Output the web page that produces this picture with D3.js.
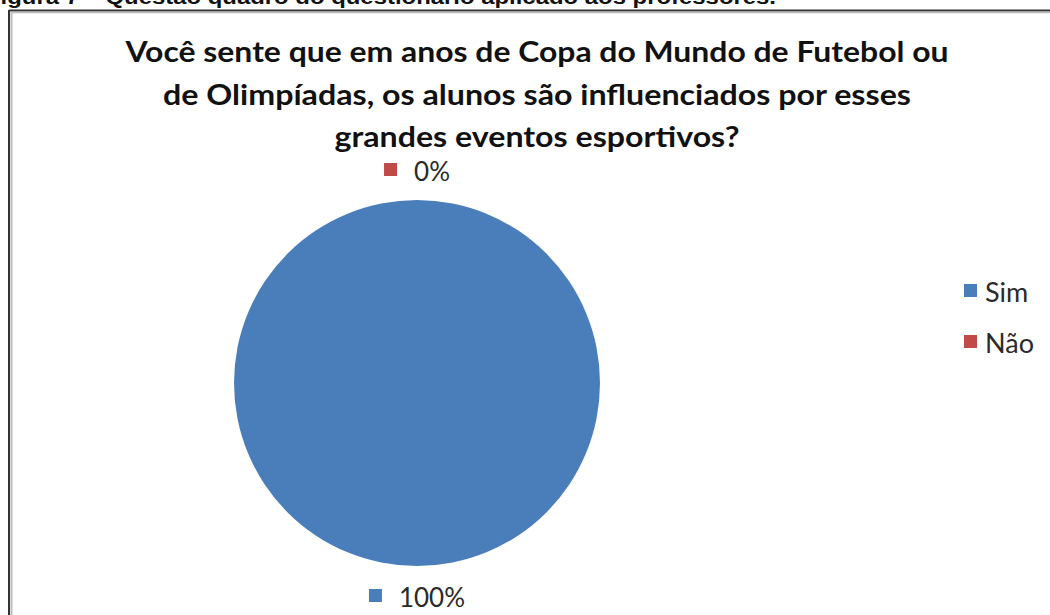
<!DOCTYPE html>
<html><head><meta charset="utf-8">
<script src="https://cdn.jsdelivr.net/npm/d3@7"></script>
<style>html,body{margin:0;padding:0;background:#fff;}svg{display:block;}</style>
</head><body>
<svg id="chart" width="1050" height="615"></svg>
<script>
const categories = ["Sim", "Não"];
const values = [100, 0];
const labels = ["100%", "0%"];
const colors = ["#4a7ebb", "#be4b48"];
const titleLines = ["Você sente que em anos de Copa do Mundo de Futebol ou", "de Olimpíadas, os alunos são influenciados por esses", "grandes eventos esportivos?"];
const caption = "Figura 7 – Questão quadro do questionário aplicado aos professores.";

const svg = d3.select("#chart");
const font = "Lato, 'Open Sans', sans-serif";

// caption (cropped at top, as in the source scan)
svg.append("text").attr("x", -14).attr("y", 4)
  .attr("font-family", "'Liberation Sans', Arial, sans-serif").attr("font-weight", "bold")
  .attr("font-size", 21).attr("fill", "#111")
  .attr("textLength", 790).attr("lengthAdjust", "spacingAndGlyphs").text(caption);

// frame
svg.append("line").attr("x1", 9).attr("x2", 1050).attr("y1", 10.5).attr("y2", 10.5).attr("stroke", "#333").attr("stroke-width", 2);
svg.append("line").attr("x1", 11).attr("x2", 1050).attr("y1", 12.5).attr("y2", 12.5).attr("stroke", "#bbb").attr("stroke-width", 1.5);
svg.append("line").attr("x1", 9).attr("x2", 9).attr("y1", 10).attr("y2", 615).attr("stroke", "#333").attr("stroke-width", 2);
svg.append("line").attr("x1", 11.5).attr("x2", 11.5).attr("y1", 12).attr("y2", 615).attr("stroke", "#bbb").attr("stroke-width", 2);

// title
const titleY = [62, 105, 147];
const titleW = [823, 748, 405];
svg.append("g").selectAll("text").data(titleLines).join("text")
  .attr("x", 537).attr("y", (d, i) => titleY[i])
  .attr("text-anchor", "middle").attr("font-family", font).attr("font-weight", "bold")
  .attr("font-size", 28).attr("fill", "#111")
  .attr("textLength", (d, i) => titleW[i]).attr("lengthAdjust", "spacingAndGlyphs")
  .text(d => d);

// pie
const cx = 417, cy = 383, r = 183;
const pie = d3.pie().sort(null).value(d => d)(values);
const arc = d3.arc().innerRadius(0).outerRadius(r);
const g = svg.append("g").attr("transform", `translate(${cx},${cy})`);
g.selectAll("path").data(pie).join("path")
  .attr("d", arc).attr("fill", (d, i) => colors[i]);

// data labels with legend keys
const labelArc = d3.arc().innerRadius(213).outerRadius(213);
pie.forEach((d, i) => {
  const [lx, ly] = labelArc.centroid(d);
  const lg = g.append("g").attr("transform", `translate(${lx},${ly})`);
  const t = lg.append("text").attr("font-family", font).attr("font-size", 26).attr("fill", "#2a2a2a")
    .attr("dominant-baseline", "central").text(labels[i]);
  const tw = t.node().getComputedTextLength();
  const total = 14 + 16 + tw;
  lg.append("rect").attr("x", -total / 2).attr("y", -7).attr("width", 13).attr("height", 13).attr("fill", colors[i]);
  t.attr("x", -total / 2 + 30).attr("y", 1);
});

// legend
const leg = svg.append("g").attr("transform", "translate(964,284)");
categories.forEach((c, i) => {
  const row = leg.append("g").attr("transform", `translate(0,${i * 51})`);
  row.append("rect").attr("width", 13).attr("height", 13).attr("fill", colors[i]);
  row.append("text").attr("x", 21).attr("y", 7).attr("dominant-baseline", "central")
    .attr("font-family", font).attr("font-size", 27).attr("fill", "#2a2a2a").text(c);
});
</script>
</body></html>
